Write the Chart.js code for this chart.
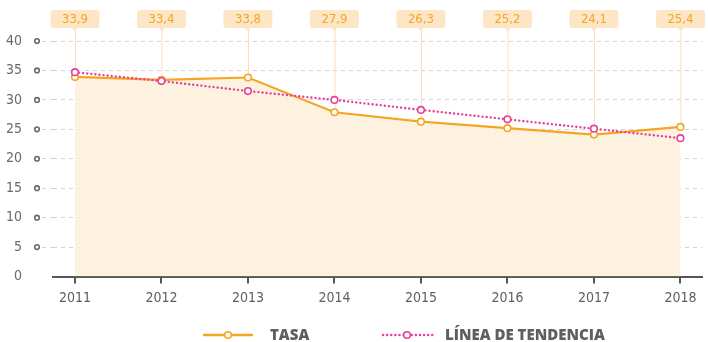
<!DOCTYPE html>
<html>
<head>
<meta charset="utf-8">
<script src="https://cdn.jsdelivr.net/npm/chart.js@4/dist/chart.umd.min.js"></script>
<style>
  html, body { margin: 0; padding: 0; background: #ffffff; }
  #wrap { position: relative; width: 708px; height: 342px; }
</style>
</head>
<body>
<div id="wrap"><canvas id="c" width="708" height="342"></canvas></div>
<script>
// Tasa anual 2011–2018 y su línea de tendencia
const years = [2011, 2012, 2013, 2014, 2015, 2016, 2017, 2018];
const tasa = [33.9, 33.4, 33.8, 27.9, 26.3, 25.2, 24.1, 25.4];
const tendencia = [34.7, 33.2, 31.5, 30.0, 28.3, 26.7, 25.1, 23.5];
const yTicks = [0, 5, 10, 15, 20, 25, 30, 35, 40];
const seriesNames = ['TASA', 'LÍNEA DE TENDENCIA'];

const ORANGE = '#f5a524';
const PINK = '#e8419a';
const CREAM = 'rgba(253, 240, 218, 0.85)';
const PEACH_BOX = '#fde6c6';
const PEACH_LINE = '#fbdcc0';
const GREY = '#5f5f5f';
const NARROW = "'DejaVu Sans Condensed', 'Liberation Sans Narrow', sans-serif";
const fmt = v => v.toFixed(1).replace('.', ',');

// Etiquetas de valor en la parte superior, unidas a cada punto por un hilo
const valueTags = {
  id: 'valueTags',
  beforeDatasetsDraw(chart) {
    const { ctx, scales: { x, y } } = chart;
    ctx.save();
    years.forEach((yr, i) => {
      const px = x.getPixelForValue(yr);
      const py = y.getPixelForValue(tasa[i]);
      ctx.strokeStyle = PEACH_LINE;
      ctx.lineWidth = 1;
      ctx.beginPath();
      ctx.moveTo(px + 0.5, 30);
      ctx.lineTo(px + 0.5, py);
      ctx.stroke();
    });
    ctx.restore();
  },
  afterDatasetsDraw(chart) {
    const { ctx, scales: { x } } = chart;
    ctx.save();
    years.forEach((yr, i) => {
      const px = x.getPixelForValue(yr);
      const w = 49, h = 18, top = 10;
      ctx.fillStyle = PEACH_BOX;
      ctx.beginPath();
      ctx.roundRect(px - w / 2, top, w, h, 3);
      ctx.fill();
      ctx.beginPath();
      ctx.moveTo(px - 3, top + h);
      ctx.lineTo(px, top + h + 3);
      ctx.lineTo(px + 3, top + h);
      ctx.closePath();
      ctx.fill();
      ctx.fillStyle = ORANGE;
      ctx.font = "condensed 13px " + NARROW;
      ctx.textAlign = 'center';
      ctx.textBaseline = 'middle';
      ctx.fillText(fmt(tasa[i]), px, top + h / 2 + 1);
    });
    ctx.restore();
  }
};

// Pequeños círculos junto a las marcas del eje Y
const yDots = {
  id: 'yDots',
  afterDraw(chart) {
    const { ctx, scales: { y } } = chart;
    ctx.save();
    yTicks.forEach(v => {
      if (v === 0) return;
      const py = y.getPixelForValue(v);
      ctx.beginPath();
      ctx.arc(37, py, 2.3, 0, Math.PI * 2);
      ctx.fillStyle = '#ffffff';
      ctx.fill();
      ctx.lineWidth = 1.6;
      ctx.strokeStyle = '#6a6a6a';
      ctx.stroke();
    });
    ctx.restore();
  }
};

// Leyenda inferior
const bottomLegend = {
  id: 'bottomLegend',
  afterDraw(chart) {
    const { ctx } = chart;
    const cy = 335;
    ctx.save();
    // TASA
    ctx.strokeStyle = ORANGE;
    ctx.lineWidth = 2.5;
    ctx.beginPath();
    ctx.moveTo(203, cy); ctx.lineTo(253, cy);
    ctx.stroke();
    ctx.beginPath();
    ctx.arc(228, cy, 3.3, 0, Math.PI * 2);
    ctx.fillStyle = '#fff'; ctx.fill();
    ctx.lineWidth = 1.6; ctx.stroke();
    // Tendencia
    ctx.strokeStyle = PINK;
    ctx.lineWidth = 2.5;
    ctx.lineCap = 'round';
    ctx.setLineDash([0.1, 4]);
    ctx.beginPath();
    ctx.moveTo(383, cy); ctx.lineTo(433, cy);
    ctx.stroke();
    ctx.setLineDash([]);
    ctx.beginPath();
    ctx.arc(407, cy, 3.3, 0, Math.PI * 2);
    ctx.fillStyle = '#fff'; ctx.fill();
    ctx.lineWidth = 1.6; ctx.stroke();
    ctx.fillStyle = GREY;
    ctx.font = "800 15px 'Open Sans', sans-serif";
    ctx.textAlign = 'left';
    ctx.textBaseline = 'middle';
    ctx.fillText(seriesNames[0], 270, cy + 1);
    ctx.fillText(seriesNames[1], 445, cy + 1);
    ctx.restore();
  }
};

new Chart(document.getElementById('c'), {
  type: 'line',
  data: {
    datasets: [
      {
        label: seriesNames[0],
        data: years.map((yr, i) => ({ x: yr, y: tasa[i] })),
        borderColor: ORANGE,
        backgroundColor: CREAM,
        fill: 'origin',
        borderWidth: 2.2,
        tension: 0,
        pointRadius: 3.3,
        pointBorderWidth: 1.6,
        pointBackgroundColor: '#ffffff',
        pointBorderColor: ORANGE,
        order: 2
      },
      {
        label: seriesNames[1],
        data: years.map((yr, i) => ({ x: yr, y: tendencia[i] })),
        borderColor: PINK,
        borderWidth: 2.4,
        borderDash: [0.1, 4],
        borderCapStyle: 'round',
        fill: false,
        tension: 0,
        pointRadius: 3.3,
        pointBorderWidth: 1.6,
        pointBackgroundColor: '#ffffff',
        pointBorderColor: PINK,
        order: 1
      }
    ]
  },
  options: {
    responsive: false,
    animation: false,
    layout: { padding: { top: 41, right: 5, left: 0, bottom: 0 } },
    plugins: { legend: { display: false }, tooltip: { enabled: false } },
    scales: {
      x: {
        type: 'linear',
        min: 2010.746,
        max: 2018.254,
        afterBuildTicks(scale) { scale.ticks = years.map(v => ({ value: v })); },
        afterFit(scale) { scale.height = 65.5; },
        ticks: {
          color: GREY,
          font: { family: NARROW, size: 14, style: 'condensed' },
          padding: 6,
          callback: v => String(v)
        },
        grid: {
          drawOnChartArea: false,
          drawTicks: true,
          tickLength: 7,
          color: '#555',
          lineWidth: 2
        },
        border: { display: true, color: '#555', width: 2 }
      },
      y: {
        min: 0,
        max: 40,
        afterBuildTicks(scale) { scale.ticks = yTicks.map(v => ({ value: v })); },
        afterFit(scale) { scale.width = 53; },
        ticks: {
          color: '#6a6a6a',
          font: { family: NARROW, size: 14, style: 'condensed' },
          padding: 20
        },
        grid: {
          color: ctx => (ctx.tick && ctx.tick.value === 0 ? 'rgba(0,0,0,0)' : '#d2d2d2'),
          lineWidth: 1,
          drawTicks: true,
          tickLength: 11,
          tickBorderDash: [4, 4]
        },
        border: { display: false, dash: [4, 4] }
      }
    }
  },
  plugins: [valueTags, yDots, bottomLegend]
});
</script>
</body>
</html>
